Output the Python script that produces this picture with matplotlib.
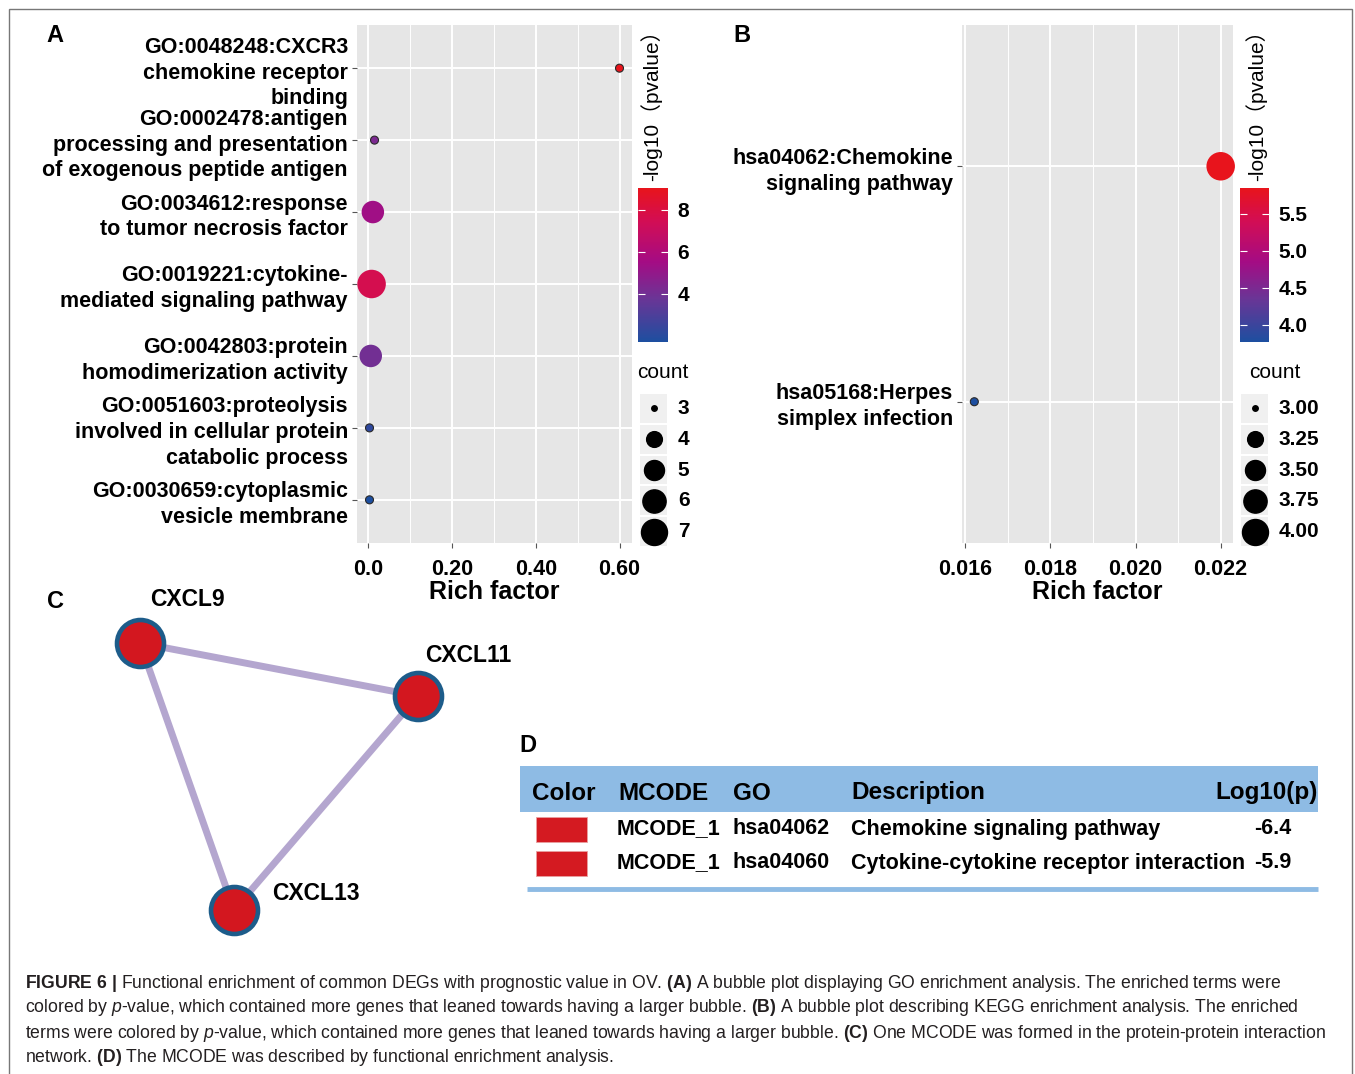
import numpy as np
import matplotlib
matplotlib.use('Agg')
import matplotlib.pyplot as plt
import matplotlib.cm as cm
from matplotlib.colors import LinearSegmentedColormap, Normalize
from matplotlib.patches import Rectangle

# ---- data: panel A (GO enrichment) ----
go_terms = [
    "GO:0048248:CXCR3\nchemokine receptor\nbinding",
    "GO:0002478:antigen\nprocessing and presentation\nof exogenous peptide antigen",
    "GO:0034612:response\nto tumor necrosis factor",
    "GO:0019221:cytokine-\nmediated signaling pathway",
    "GO:0042803:protein\nhomodimerization activity",
    "GO:0051603:proteolysis\ninvolved in cellular protein\ncatabolic process",
    "GO:0030659:cytoplasmic\nvesicle membrane",
]
go_rich = [0.600, 0.015, 0.011, 0.008, 0.006, 0.003, 0.003]
go_logp = [9.05, 4.3, 5.4, 7.6, 4.0, 2.2, 1.7]
go_count = [3, 3, 5, 7, 5, 3, 3]
go_xticks = [0.0, 0.2, 0.4, 0.6]
go_xticklabels = ["0.0", "0.20", "0.40", "0.60"]
go_xminor = [0.1, 0.3, 0.5]
go_cbar_ticks = [4, 6, 8]
go_count_breaks = [3, 4, 5, 6, 7]
go_count_labels = ["3", "4", "5", "6", "7"]

# ---- data: panel B (KEGG enrichment) ----
kegg_terms = ["hsa04062:Chemokine\nsignaling pathway", "hsa05168:Herpes\nsimplex infection"]
kegg_rich = [0.0220, 0.01621]
kegg_logp = [5.85, 3.77]
kegg_count = [4, 3]
kegg_xticks = [0.016, 0.018, 0.020, 0.022]
kegg_xticklabels = ["0.016", "0.018", "0.020", "0.022"]
kegg_xminor = [0.017, 0.019, 0.021]
kegg_cbar_ticks = [4.0, 4.5, 5.0, 5.5]
kegg_count_breaks = [3.00, 3.25, 3.50, 3.75, 4.00]
kegg_count_labels = ["3.00", "3.25", "3.50", "3.75", "4.00"]

# ---- data: panel C (MCODE network) ----
genes = ["CXCL9", "CXCL11", "CXCL13"]
links = [(0, 1), (0, 2), (1, 2)]
# node layout (network coordinates)
layout_x = [40, 318, 134]
layout_y = [43, 96, 310]

# ---- data: panel D (table) ----
tab_header = ["Color", "MCODE", "GO", "Description", "Log10(p)"]
tab_mcode = ["MCODE_1", "MCODE_1"]
tab_go = ["hsa04062", "hsa04060"]
tab_desc = ["Chemokine signaling pathway", "Cytokine-cytokine receptor interaction"]
tab_logp = [-6.4, -5.9]

caption = [
    r"$\mathbf{FIGURE\ 6\ |}$ Functional enrichment of common DEGs with prognostic value in OV. $\mathbf{(A)}$ A bubble plot displaying GO enrichment analysis. The enriched terms were",
    r"colored by $\mathit{p}$-value, which contained more genes that leaned towards having a larger bubble. $\mathbf{(B)}$ A bubble plot describing KEGG enrichment analysis. The enriched",
    r"terms were colored by $\mathit{p}$-value, which contained more genes that leaned towards having a larger bubble. $\mathbf{(C)}$ One MCODE was formed in the protein-protein interaction",
    r"network. $\mathbf{(D)}$ The MCODE was described by functional enrichment analysis.",
]

plt.rcParams['font.family'] = 'Liberation Sans'
plt.rcParams['mathtext.fontset'] = 'custom'
plt.rcParams['mathtext.rm'] = 'Liberation Sans'
plt.rcParams['mathtext.bf'] = 'Liberation Sans:bold'
plt.rcParams['mathtext.it'] = 'Liberation Sans:italic'

W, H = 1355, 1074
fig = plt.figure(figsize=(W / 100, H / 100), dpi=100)

cmap = LinearSegmentedColormap.from_list(
    'pv', [(0.0, '#1d4fa0'), (0.28, '#6a3596'), (0.52, '#a40c84'),
           (0.78, '#d20d55'), (1.0, '#e8141c')])


def px_axes(x0, y0, x1, y1):
    return fig.add_axes([x0 / W, 1 - y1 / H, (x1 - x0) / W, (y1 - y0) / H])


def fig_text(x, y, s, **kw):
    return fig.text(x / W, 1 - y / H, s, **kw)


def dot_diam(c, cmin, cmax):
    # ggplot-like area scale: diameter grows with sqrt of rescaled count
    return 5.5 + 20.5 * np.sqrt((np.asarray(c, float) - cmin) / (cmax - cmin))


def bubble_panel(box, cbox, lbox, terms, rich, logp, count, xticks, xlabels, xminor,
                 cticks, cfmt, breaks, blabels, ctitle_x, count_x):
    ax = px_axes(*box)
    ax.set_facecolor('#e6e6e6')
    n = len(terms)
    ypos = np.arange(n)
    norm = Normalize(min(logp), max(logp))
    cmin, cmax = min(count), max(count)

    # small points show a dark rim in the original, big ones do not
    edges = ['#2a2a2a' if c == cmin else 'none' for c in count]
    ax.scatter(rich, ypos, s=((dot_diam(count, cmin, cmax) + 2.5) * 0.72) ** 2, c=logp,
               cmap=cmap, norm=norm, edgecolors=edges, linewidths=0.8, zorder=3,
               clip_on=False)

    span = max(rich) - min(rich)
    ax.set_xlim(min(rich) - 0.05 * span, max(rich) + 0.05 * span)
    ax.set_ylim(n - 1 + 0.6, -0.6)
    ax.set_xticks(xticks)
    ax.set_xticklabels(xlabels)
    ax.set_xticks(xminor, minor=True)
    ax.set_yticks(ypos)
    ax.set_yticklabels(terms, multialignment='right', linespacing=1.3)
    ax.set_axisbelow(True)
    ax.grid(which='major', color='white', lw=1.4)
    ax.grid(which='minor', axis='x', color='white', lw=0.7)
    for sp in ax.spines.values():
        sp.set_visible(False)
    ax.tick_params(which='major', length=3.5, width=0.8, color='#555555', pad=3)
    ax.tick_params(which='minor', length=0)
    ax.tick_params(axis='x', pad=8)
    for lab in ax.get_xticklabels() + ax.get_yticklabels():
        lab.set_fontweight('bold')
        lab.set_fontsize(15.5)
        lab.set_color('black')
    ax.set_xlabel('Rich factor', fontsize=18, fontweight='bold', labelpad=0)

    # colour bar
    cax = px_axes(*cbox)
    cb = fig.colorbar(cm.ScalarMappable(norm=norm, cmap=cmap), cax=cax, ticks=cticks)
    cb.outline.set_visible(False)
    cax.yaxis.set_ticks_position('both')
    cax.tick_params(direction='in', color='white', length=5, width=0.8,
                    labelright=True, labelleft=False, pad=7)
    cax.set_yticklabels([cfmt.format(t) for t in cticks], fontsize=15, fontweight='bold')
    fig_text(ctitle_x, 181, '-log10（pvalue）', rotation=90, ha='center', va='bottom',
             fontsize=15, family=['Liberation Sans', 'Noto Sans CJK SC'])

    # size legend
    fig_text(count_x, 373, 'count', ha='left', va='center', fontsize=15)
    la = px_axes(*lbox)
    la.set_xlim(0, 1)
    la.set_ylim(len(breaks), 0)
    la.axis('off')
    for i, (b, lab) in enumerate(zip(breaks, blabels)):
        la.add_patch(Rectangle((0, i + 0.03), 1, 0.94, color='#f0f0f0', lw=0))
        la.scatter([0.5], [i + 0.5], s=(dot_diam(b, cmin, cmax) * 0.72) ** 2,
                   color='black', zorder=3, clip_on=False)
        la.text(1.4, i + 0.5, lab, ha='left', va='center', fontsize=15, fontweight='bold')
    return ax


bubble_panel((357, 25, 632, 543), (638, 188, 668, 342), (640, 393, 667, 547),
             go_terms, go_rich, go_logp, go_count, go_xticks, go_xticklabels, go_xminor,
             go_cbar_ticks, '{:g}', go_count_breaks, go_count_labels, 651, 637)

bubble_panel((962, 25, 1233, 543), (1240, 188, 1269, 342), (1241, 393, 1268, 547),
             kegg_terms, kegg_rich, kegg_logp, kegg_count, kegg_xticks, kegg_xticklabels,
             kegg_xminor, kegg_cbar_ticks, '{:.1f}', kegg_count_breaks, kegg_count_labels,
             1256, 1249)

# panel C: network
axc = px_axes(100, 600, 500, 950)
axc.set_xlim(0, 400)
axc.set_ylim(350, 0)
axc.axis('off')
for a, b in links:
    axc.plot([layout_x[a], layout_x[b]], [layout_y[a], layout_y[b]],
             color='#b4a6cf', lw=5, solid_capstyle='butt', zorder=1)
axc.scatter(layout_x, layout_y, s=(47 * 0.72) ** 2, facecolor='#d3171f',
            edgecolor='#1d5c8a', linewidths=3.3, zorder=2, clip_on=False)
label_dx = [10, 7, 38]
label_dy = [-43, -40, -16]
for g, x, y, dx, dy in zip(genes, layout_x, layout_y, label_dx, label_dy):
    axc.text(x + dx, y + dy, g, ha='left', va='center', fontsize=16.5, fontweight='bold')

# panel D: table
axd = px_axes(515, 740, 1325, 900)
axd.set_xlim(515, 1325)
axd.set_ylim(900, 740)
axd.axis('off')
axd.add_patch(Rectangle((520, 766), 798, 46, color='#8ebbe4', lw=0))
axd.plot([527, 1318], [889, 889], color='#8ebbe4', lw=3.5, solid_capstyle='butt')
head_x = [532, 618, 733, 851, 1318]
for h, x in zip(tab_header, head_x):
    axd.text(x, 793, h, ha='right' if h.startswith('Log') else 'left', va='center',
             fontsize=17.5, fontweight='bold')
row_y = [829, 863]
for i, y in enumerate(row_y):
    axd.add_patch(Rectangle((536, y - 12), 51, 25, facecolor='#d41a21',
                            edgecolor='#e8a0a0', lw=0.6))
    axd.text(617, y, tab_mcode[i], ha='left', va='center', fontsize=15.5, fontweight='bold')
    axd.text(733, y, tab_go[i], ha='left', va='center', fontsize=15.5, fontweight='bold')
    axd.text(851, y, tab_desc[i], ha='left', va='center', fontsize=15.5, fontweight='bold')
    axd.text(1291, y, f"{tab_logp[i]:.1f}", ha='right', va='center', fontsize=15.5,
             fontweight='bold')

# panel letters
for letter, x, y in [('A', 55, 36), ('B', 742, 36), ('C', 55, 602), ('D', 528, 745)]:
    fig_text(x, y, letter, ha='center', va='center', fontsize=17, fontweight='bold')

# caption
for i, line in enumerate(caption):
    fig_text(25, 983 + 25 * i, line, ha='left', va='center', fontsize=12.7, color='#231f20')

# outer frame
fig.patches.append(Rectangle((9 / W, -0.01), (1352 - 9) / W, 1 - 9 / H + 0.01,
                             transform=fig.transFigure, fill=False,
                             edgecolor='#777777', lw=1))

fig.savefig('out.png', dpi=100)
